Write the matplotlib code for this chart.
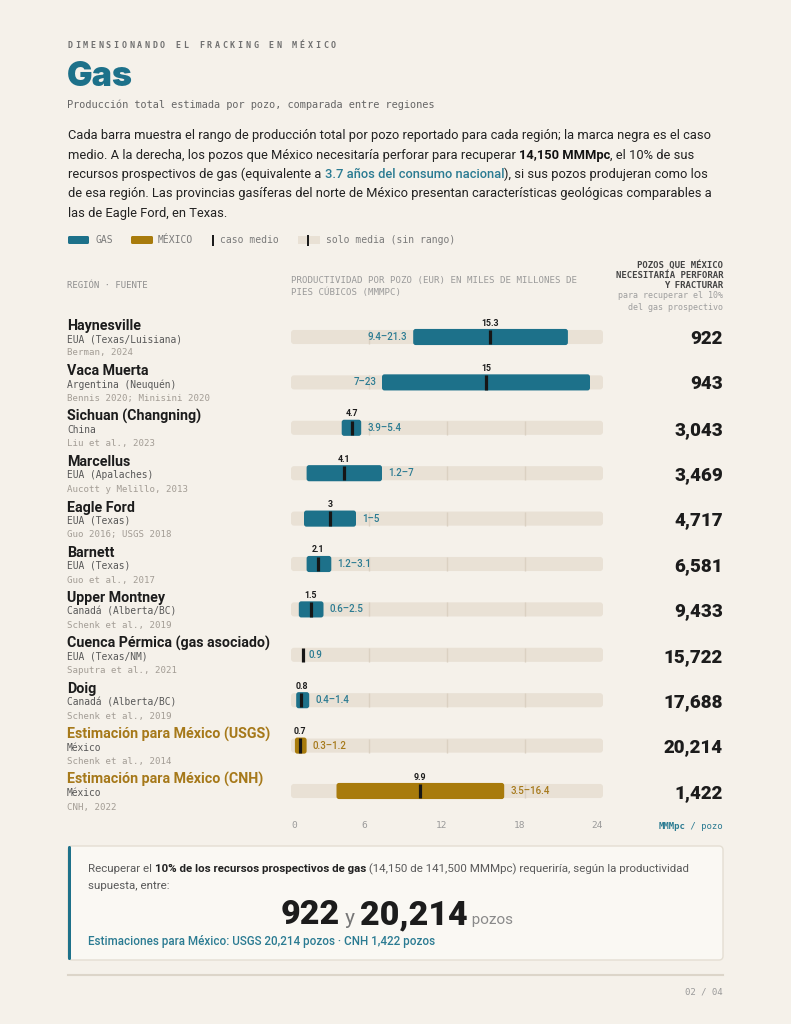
import matplotlib
matplotlib.use('Agg')
import matplotlib.pyplot as plt
from matplotlib import font_manager as fm
from matplotlib.patches import FancyBboxPatch, Rectangle

# ---------------- data ----------------
names = ["Haynesville", "Vaca Muerta", "Sichuan (Changning)", "Marcellus", "Eagle Ford",
         "Barnett", "Upper Montney", "Cuenca Pérmica (gas asociado)", "Doig",
         "Estimación para México (USGS)", "Estimación para México (CNH)"]
countries = ["EUA (Texas/Luisiana)", "Argentina (Neuquén)", "China", "EUA (Apalaches)",
             "EUA (Texas)", "EUA (Texas)", "Canadá (Alberta/BC)", "EUA (Texas/NM)",
             "Canadá (Alberta/BC)", "México", "México"]
sources = ["Berman, 2024", "Bennis 2020; Minisini 2020", "Liu et al., 2023",
           "Aucott y Melillo, 2013", "Guo 2016; USGS 2018", "Guo et al., 2017",
           "Schenk et al., 2019", "Saputra et al., 2021", "Schenk et al., 2019",
           "Schenk et al., 2014", "CNH, 2022"]
low = [9.4, 7, 3.9, 1.2, 1, 1.2, 0.6, None, 0.4, 0.3, 3.5]
high = [21.3, 23, 5.4, 7, 5, 3.1, 2.5, None, 1.4, 1.2, 16.4]
mid = [15.3, 15, 4.7, 4.1, 3, 2.1, 1.5, 0.9, 0.8, 0.7, 9.9]
wells = [922, 943, 3043, 3469, 4717, 6581, 9433, 15722, 17688, 20214, 1422]
group = ["gas"] * 9 + ["mx"] * 2
x_ticks = [0, 6, 12, 18, 24]
x_max = 24
grid_lines = [6, 12, 18]

# ---------------- style ----------------
W, H = 791, 1024
BG = '#F5F1EA'
TRACK = '#E9E1D5'
GRID = '#DBD1C2'
TEAL = '#1D718A'
TEAL_TXT = '#2B7B92'
GOLD = '#A87B0C'
GOLD_TXT = '#A6791A'
DARK = '#1C1C1C'

available = {f.name for f in fm.fontManager.ttflist}
SANS = 'Roboto' if 'Roboto' in available else 'DejaVu Sans'
TITLE_FONT = 'Inter' if 'Inter' in available else SANS
MONO = 'DejaVu Sans Mono'

plt.rcParams['font.family'] = [SANS, 'DejaVu Sans']

fig = plt.figure(figsize=(W / 100, H / 100), dpi=100, facecolor=BG)
bg = fig.add_axes([0, 0, 1, 1])
bg.set_xlim(0, W)
bg.set_ylim(H, 0)
bg.axis('off')
bg.set_zorder(0)

# chart axes: track from x=291..603 px, rows centered 337..791 px
row0, rowstep = 337.0, 45.4
n = len(names)
top_px = row0 - rowstep / 2
bot_px = row0 + rowstep * (n - 1) + rowstep / 2
ax = fig.add_axes([291 / W, 1 - bot_px / H, 312 / W, (bot_px - top_px) / H])
ax.set_xlim(0, x_max)
ax.set_ylim(n - 0.5, -0.5)
ax.axis('off')
ax.patch.set_alpha(0)
ax.set_zorder(1)

renderer = fig.canvas.get_renderer()


def measure(s, **kw):
    t = bg.text(0, 0, '|' + s + '|', **kw)
    w1 = t.get_window_extent(renderer).width
    t.remove()
    t = bg.text(0, 0, '||', **kw)
    w2 = t.get_window_extent(renderer).width
    t.remove()
    return w1 - w2


def runs(x, y, parts, base, draw=True):
    for s, extra in parts:
        kw = dict(base)
        kw.update(extra)
        if draw:
            bg.text(x, y, s, ha='left', va='baseline', **kw)
        x += measure(s, **kw)
    return x


def row_y(i):
    d = ax.transData.transform((0, i))
    return bg.transData.inverted().transform(d)[1]


# ---------------- header ----------------
kicker = "DIMENSIONANDO EL FRACKING EN MÉXICO"
for k, ch in enumerate(kicker):
    bg.text(67 + k * 7.76, 45, ch, family=MONO, fontsize=6.0, weight='bold',
            color='#707070', ha='left', va='center')

title_kw = dict(family=TITLE_FONT, fontsize=25, weight='black', color=TEAL)
tw = measure("Gas", **title_kw)
title_kw['fontsize'] = 25 * 66 / tw
bg.text(67, 85.5, "Gas", ha='left', va='baseline', **title_kw)

bg.text(67, 105, "Producción total estimada por pozo, comparada entre regiones",
        family=MONO, fontsize=7.4, color='#666666', ha='left', va='center')

body_base = dict(family=SANS, fontsize=10, color='#222222')
body_lines = [
    [("Cada barra muestra el rango de producción total por pozo reportado para cada región; la marca negra es el caso", {})],
    [("medio. A la derecha, los pozos que México necesitaría perforar para recuperar ", {}),
     ("14,150 MMMpc", {'weight': 'bold', 'color': '#111111'}),
     (", el 10% de sus", {})],
    [("recursos prospectivos de gas (equivalente a ", {}),
     ("3.7 años del consumo nacional", {'weight': 'medium', 'color': TEAL_TXT}),
     ("), si sus pozos produjeran como los", {})],
    [("de esa región. Las provincias gasíferas del norte de México presentan características geológicas comparables a", {})],
    [("las de Eagle Ford, en Texas.", {})],
]
w_line1 = runs(0, 0, body_lines[0], body_base, draw=False)
body_base['fontsize'] = 10 * 644 / w_line1
body_baselines = [138.5, 158.5, 178, 197.5, 217]
for parts, yb in zip(body_lines, body_baselines):
    runs(68, yb, parts, body_base)

# legend
leg_y = 240
bg.add_patch(FancyBboxPatch((68, leg_y - 4), 21, 8, boxstyle="round,pad=0,rounding_size=1.5",
                            fc=TEAL, ec='none'))
bg.text(95, leg_y, "GAS", family=MONO, fontsize=7.0, color='#7A7A7A', va='center')
bg.add_patch(FancyBboxPatch((131, leg_y - 4), 22, 8, boxstyle="round,pad=0,rounding_size=1.5",
                            fc=GOLD, ec='none'))
bg.text(158, leg_y, "MÉXICO", family=MONO, fontsize=7.0, color='#7A7A7A', va='center')
bg.add_patch(Rectangle((212, leg_y - 5.5), 2.2, 11, fc=DARK, ec='none'))
bg.text(220, leg_y, "caso medio", family=MONO, fontsize=7.0, color='#7A7A7A', va='center')
bg.add_patch(Rectangle((298, leg_y - 4), 22, 8, fc=TRACK, ec='none'))
bg.add_patch(Rectangle((307, leg_y - 5.5), 2.2, 11, fc=DARK, ec='none'))
bg.text(326, leg_y, "solo media (sin rango)", family=MONO, fontsize=7.0, color='#7A7A7A', va='center')

# column headers
bg.text(67, 286, "REGIÓN · FUENTE", family=MONO, fontsize=6.5, color='#8E8E8E', va='center')
bg.text(291, 280, "PRODUCTIVIDAD POR POZO (EUR) EN MILES DE MILLONES DE", family=MONO,
        fontsize=6.6, color='#9A9A9A', va='center')
bg.text(291, 292, "PIES CÚBICOS (MMMPC)", family=MONO, fontsize=6.6, color='#9A9A9A', va='center')
for txt, yy in [("POZOS QUE MÉXICO", 265), ("NECESITARÍA PERFORAR", 275), ("Y FRACTURAR", 286)]:
    bg.text(723, yy, txt, family=MONO, fontsize=6.5, weight='bold', color='#454545',
            ha='right', va='center')
for txt, yy in [("para recuperar el 10%", 296), ("del gas prospectivo", 307)]:
    bg.text(723, yy, txt, family=MONO, fontsize=6.0, color='#9E9E9E', ha='right', va='center')

# ---------------- chart ----------------
rows = list(range(n))
ax.barh(rows, [x_max] * n, left=0, height=0.31, color=TRACK, zorder=1)
for i in rows:
    ax.vlines(grid_lines, i - 0.155, i + 0.155, color=GRID, lw=1.0, zorder=1.5)

range_rows = [i for i in rows if low[i] is not None]
bar_colors = [TEAL if group[i] == 'gas' else GOLD for i in range_rows]
bars = ax.barh(range_rows, [high[i] - low[i] for i in range_rows],
               left=[low[i] for i in range_rows], height=0.355, color=bar_colors, zorder=2)

# round the corners of tracks and bars
px_x = ax.transData.transform((1, 0))[0] - ax.transData.transform((0, 0))[0]
px_y = abs(ax.transData.transform((0, 1))[1] - ax.transData.transform((0, 0))[1])
for cont, r in [(ax.containers[0], 3.0), (bars, 2.5)]:
    for rect in cont:
        x0, y0, w0, h0 = rect.get_x(), rect.get_y(), rect.get_width(), rect.get_height()
        fb = FancyBboxPatch((x0, y0), w0, h0,
                            boxstyle=f"round,pad=0,rounding_size={r / px_x}",
                            mutation_aspect=px_x / px_y,
                            fc=rect.get_facecolor(), ec='none', zorder=rect.get_zorder())
        rect.set_visible(False)
        ax.add_patch(fb)

# median marks
ax.vlines(mid, [i - 0.16 for i in rows], [i + 0.16 for i in rows], color='#161616', lw=2.3, zorder=4)

for i in rows:
    col_txt = TEAL_TXT if group[i] == 'gas' else GOLD_TXT
    if low[i] is not None:
        ax.annotate(f"{mid[i]:g}", xy=(mid[i], i), xytext=(0, 14), textcoords='offset pixels',
                    ha='center', va='center', fontsize=6.3, weight='bold', color=DARK, zorder=5)
        label = f"{low[i]:g}–{high[i]:g}"
        if high[i] > 18:
            ax.annotate(label, xy=(low[i], i), xytext=(-6, 0), textcoords='offset pixels',
                        ha='right', va='center', fontsize=7.0, weight='medium', color=col_txt, zorder=5)
        else:
            ax.annotate(label, xy=(high[i], i), xytext=(6, 0), textcoords='offset pixels',
                        ha='left', va='center', fontsize=7.0, weight='medium', color=col_txt, zorder=5)
    else:
        ax.annotate(f"{mid[i]:g}", xy=(mid[i], i), xytext=(6, 0), textcoords='offset pixels',
                    ha='left', va='center', fontsize=7.0, weight='medium', color=col_txt, zorder=5)

# x tick labels
for t in x_ticks:
    if t == x_ticks[0]:
        ha, dx = 'left', 0
    elif t == x_ticks[-1]:
        ha, dx = 'right', 0
    else:
        ha, dx = 'center', -5
    ax.annotate(f"{t}", xy=(t, n - 0.5), xytext=(dx, -12), textcoords='offset pixels',
                ha=ha, va='center', family=MONO, fontsize=6.8, color='#9A9A9A')

# unit label
u_base = dict(family=MONO, fontsize=6.5, color=TEAL_TXT)
u_parts = [("MMMpc", {'weight': 'bold'}), (" / pozo", {})]
uw = runs(0, 0, u_parts, u_base, draw=False)
runs(723 - uw, 829, u_parts, u_base)

# row texts
for i in rows:
    y = row_y(i)
    name_col = DARK if group[i] == 'gas' else GOLD_TXT
    bg.text(67, y - 7, names[i], family=SANS, fontsize=10.3, weight='bold', color=name_col,
            ha='left', va='baseline')
    bg.text(67, y + 2, countries[i], family=MONO, fontsize=6.9, color='#585858',
            ha='left', va='center')
    bg.text(67, y + 16, sources[i], family=MONO, fontsize=6.6, color='#A39D95',
            ha='left', va='center')
    bg.text(723, y + 7, f"{wells[i]:,}", family=SANS, fontsize=13.5, weight='black', color=DARK,
            ha='right', va='baseline')

# ---------------- summary box ----------------
bg.add_patch(FancyBboxPatch((68, 846), 655, 114, boxstyle="round,pad=0,rounding_size=4",
                            fc='#FAF8F3', ec='#E4DED3', lw=1.0, zorder=1))
bg.add_patch(FancyBboxPatch((68, 846), 3, 114, boxstyle="round,pad=0,rounding_size=1.5",
                            fc=TEAL, ec='none', zorder=2))

box_base = dict(family=SANS, fontsize=9, color='#5A5A5A')
box_l1 = [("Recuperar el ", {}),
          ("10% de los recursos prospectivos de gas", {'weight': 'bold', 'color': '#222222'}),
          (" (14,150 de 141,500 MMMpc) requeriría, según la productividad", {})]
wb = runs(0, 0, box_l1, box_base, draw=False)
box_base['fontsize'] = 9 * 602 / wb
runs(88, 872, box_l1, box_base)
runs(88, 889, [("supuesta, entre:", {})], box_base)

min_w, max_w = min(wells), max(wells)
big_parts = [(f"{min_w:,}", {'weight': 'black', 'fontsize': 24.5, 'color': DARK}),
             (" y ", {'fontsize': 15, 'color': '#777777'}),
             (f"{max_w:,}", {'weight': 'black', 'fontsize': 24.5, 'color': DARK}),
             (" pozos", {'fontsize': 11, 'color': '#8A8A8A'})]
big_base = dict(family=SANS)
bw = runs(0, 0, big_parts, big_base, draw=False)
runs(397 - bw / 2, 924, big_parts, big_base)

usgs = wells[names.index("Estimación para México (USGS)")]
cnh = wells[names.index("Estimación para México (CNH)")]
est_base = dict(family=SANS, fontsize=8.2, weight='medium', color=TEAL_TXT)
est = [(f"Estimaciones para México: USGS {usgs:,} pozos · CNH {cnh:,} pozos", {})]
we = runs(0, 0, est, est_base, draw=False)
est_base['fontsize'] = 8.2 * 345 / we
runs(88, 945, est, est_base)

# footer
bg.plot([68, 723], [975, 975], color='#DCD5C9', lw=1.5)
bg.text(723, 992, "02 / 04", family=MONO, fontsize=6.5, color='#9A9A9A', ha='right', va='center')

fig.savefig('out.png', dpi=100, facecolor=BG)
